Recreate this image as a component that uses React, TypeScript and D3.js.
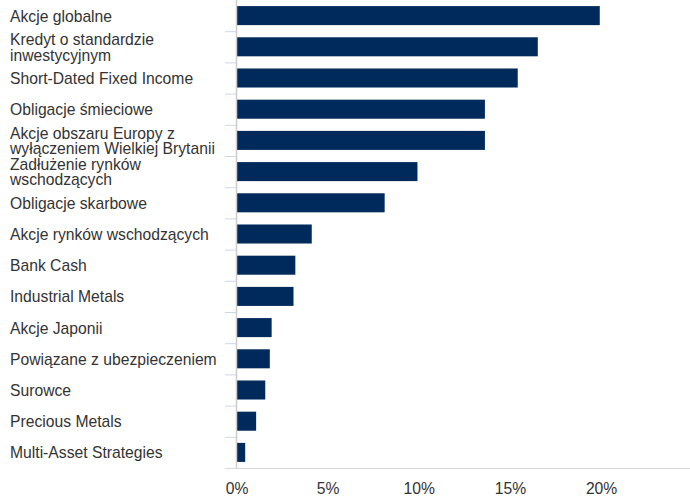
import { useEffect, useRef } from 'react';
import * as d3 from 'd3';

const categories = [
  'Akcje globalne',
  'Kredyt o standardzie inwestycyjnym',
  'Short-Dated Fixed Income',
  'Obligacje śmieciowe',
  'Akcje obszaru Europy z wyłączeniem Wielkiej Brytanii',
  'Zadłużenie rynków wschodzących',
  'Obligacje skarbowe',
  'Akcje rynków wschodzących',
  'Bank Cash',
  'Industrial Metals',
  'Akcje Japonii',
  'Powiązane z ubezpieczeniem',
  'Surowce',
  'Precious Metals',
  'Multi-Asset Strategies',
];

const values = [19.9, 16.5, 15.4, 13.6, 13.6, 9.9, 8.1, 4.1, 3.2, 3.1, 1.9, 1.8, 1.55, 1.05, 0.45];

const xTicks = [0, 5, 10, 15, 20];

const width = 690;
const height = 499;

export default function App() {
  const svgRef = useRef<SVGSVGElement>(null);

  useEffect(() => {
    if (!svgRef.current) return;
    const svg = d3.select(svgRef.current);
    svg.selectAll('*').remove();

    const margin = { top: 0, right: 0, bottom: 31, left: 237 };
    const innerWidth = width - margin.left - margin.right;
    const innerHeight = height - margin.top - margin.bottom;
    const font = '"Liberation Sans", Arial, sans-serif';
    const fontSize = '15.7px';

    const x = d3.scaleLinear()
      .domain([0, 24.85])
      .range([0, innerWidth]);

    const y = d3.scaleBand()
      .domain(categories)
      .range([0, innerHeight])
      .paddingInner(0.39)
      .paddingOuter(0.195);

    const step = y.step();

    const g = svg.append('g')
      .attr('transform', `translate(${margin.left},${margin.top})`);

    // category ticks at band boundaries
    d3.range(1, categories.length + 1).forEach(i => {
      g.append('line')
        .attr('x1', -12)
        .attr('x2', 0)
        .attr('y1', i * step + 0.5)
        .attr('y2', i * step + 0.5)
        .attr('stroke', '#ccd6eb')
        .attr('stroke-width', 1);
    });

    // bottom axis line
    g.append('line')
      .attr('x1', -12)
      .attr('x2', innerWidth)
      .attr('y1', innerHeight + 0.5)
      .attr('y2', innerHeight + 0.5)
      .attr('stroke', '#d8d8d8')
      .attr('stroke-width', 1);

    // bars
    g.selectAll('rect.bar')
      .data(categories)
      .join('rect')
      .attr('class', 'bar')
      .attr('x', 0)
      .attr('y', d => y(d) || 0)
      .attr('width', (_, i) => x(values[i]))
      .attr('height', y.bandwidth())
      .attr('fill', '#002a5c');

    // vertical axis line
    g.append('line')
      .attr('x1', -0.5)
      .attr('x2', -0.5)
      .attr('y1', 0)
      .attr('y2', innerHeight)
      .attr('stroke', '#cccccc')
      .attr('stroke-width', 1.5);

    // category labels, wrapped at ~218px
    const maxW = 218;
    categories.forEach(cat => {
      const cy = (y(cat) || 0) + y.bandwidth() / 2;
      const text = g.append('text')
        .attr('x', 10 - margin.left)
        .attr('font-family', font)
        .attr('font-size', fontSize)
        .attr('fill', '#333333');
      const words = cat.split(' ');
      const lines: string[] = [];
      let line: string[] = [];
      const probe = text.append('tspan');
      words.forEach(w => {
        line.push(w);
        probe.text(line.join(' '));
        if ((probe.node() as SVGTSpanElement).getComputedTextLength() > maxW && line.length > 1) {
          line.pop();
          lines.push(line.join(' '));
          line = [w];
        }
      });
      lines.push(line.join(' '));
      probe.remove();
      const lh = 15.5;
      lines.forEach((l, i) => {
        text.append('tspan')
          .attr('x', 10 - margin.left)
          .attr('y', cy + 6 + (i - (lines.length - 1) / 2) * lh)
          .text(l);
      });
    });

    // x tick labels
    g.selectAll('text.xtick')
      .data(xTicks)
      .join('text')
      .attr('class', 'xtick')
      .attr('x', d => x(d))
      .attr('y', innerHeight + 26)
      .attr('text-anchor', 'middle')
      .attr('font-family', font)
      .attr('font-size', fontSize)
      .attr('fill', '#333333')
      .text(d => `${d}%`);
  }, []);

  return (
    <svg
      ref={svgRef}
      width={width}
      height={height}
      style={{ position: 'absolute', left: 0, top: 0, background: '#ffffff' }}
    />
  );
}
